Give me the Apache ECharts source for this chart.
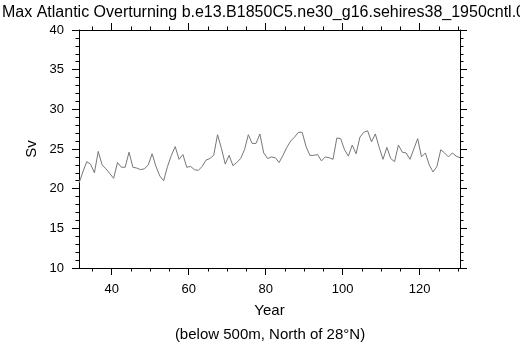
<!DOCTYPE html>
<html><head><meta charset="utf-8">
<script src="https://cdn.jsdelivr.net/npm/echarts@6/dist/echarts.min.js"></script>
<style>html,body{margin:0;padding:0;background:#fff}#c{width:520px;height:347px}</style>
</head><body><div id="c"></div>
<script>
// Data (year mid-points, Sv)
const years = [31.5,32.5,33.5,34.5,35.5,36.5,37.5,38.5,39.5,40.5,
  41.5,42.5,43.5,44.5,45.5,46.5,47.5,48.5,49.5,50.5,
  51.5,52.5,53.5,54.5,55.5,56.5,57.5,58.5,59.5,60.5,
  61.5,62.5,63.5,64.5,65.5,66.5,67.5,68.5,69.5,70.5,
  71.5,72.5,73.5,74.5,75.5,76.5,77.5,78.5,79.5,80.5,
  81.5,82.5,83.5,84.5,85.5,86.5,87.5,88.5,89.5,90.5,
  91.5,92.5,93.5,94.5,95.5,96.5,97.5,98.5,99.5,100.5,
  101.5,102.5,103.5,104.5,105.5,106.5,107.5,108.5,109.5,110.5,
  111.5,112.5,113.5,114.5,115.5,116.5,117.5,118.5,119.5,120.5,
  121.5,122.5,123.5,124.5,125.5,126.5,127.5,128.5,129.5,130.5];
const sv = [20.7,22.1,23.4,23.1,22.0,24.7,23.0,22.5,21.9,21.3,
  23.3,22.7,22.7,24.6,22.7,22.6,22.4,22.5,23.0,24.4,
  22.8,21.6,21.0,22.8,24.2,25.3,23.7,24.3,22.7,22.8,
  22.4,22.3,22.8,23.6,23.8,24.2,26.8,25.1,23.1,24.2,
  22.9,23.3,23.8,24.9,26.8,25.7,25.7,26.9,24.5,23.8,
  24.0,23.9,23.3,24.2,25.2,26.0,26.5,27.1,27.1,25.3,
  24.2,24.2,24.3,23.5,24.0,23.9,23.7,26.4,26.3,24.9,
  24.1,25.5,24.4,26.5,27.1,27.3,25.9,26.9,25.2,23.7,
  25.2,23.8,23.4,25.5,24.6,24.5,23.7,25.0,26.3,24.0,
  24.5,23.0,22.1,22.8,24.9,24.5,24.0,24.5,24.1,23.9];
const xMajorTicks = [40,60,80,100,120];
const xMinorTicks = [35,40,45,50,55,60,65,70,75,80,85,90,95,100,105,110,115,120,125,130];
const titleText = 'Max Atlantic Overturning b.e13.B1850C5.ne30_g16.sehires38_1950cntl.001';
const xTitle = 'Year';
const yTitle = 'Sv';
const subTitle = '(below 500m, North of 28°N)';

const FONT = '"Liberation Sans", Arial, Helvetica, sans-serif';
const chart = echarts.init(document.getElementById('c'), null, {renderer:'canvas'});
const axisLine = {show:true, lineStyle:{color:'#000', width:1}};
function xAx(pos, ticks, len, labels, line){
  return {type:'value', position:pos, min:31.5, max:130.5, gridIndex:0,
    axisLine: line ? axisLine : {show:false},
    axisTick:{show:true, inside:false, length:len, customValues:ticks, lineStyle:{color:'#000', width:1}},
    axisLabel: labels ? {show:true, customValues:xMajorTicks, fontSize:13, color:'#000', margin:15, fontFamily:FONT} : {show:false},
    splitLine:{show:false}};
}
function yAx(pos, labels){
  return {type:'value', position:pos, min:10, max:40, interval:5,
    axisLine:axisLine,
    axisTick:{show:true, inside:false, length:7, lineStyle:{color:'#000', width:1}},
    minorTick:{show:true, splitNumber:5, length:3.5, lineStyle:{color:'#000', width:1}},
    axisLabel: labels ? {show:true, fontSize:13, color:'#000', margin:15, fontFamily:FONT} : {show:false},
    splitLine:{show:false}, minorSplitLine:{show:false}};
}
chart.setOption({
  animation:false,
  backgroundColor:'#fff',
  grid:{left:79, right:60, top:30, bottom:79, containLabel:false},
  xAxis:[xAx('bottom', xMajorTicks, 7, true, true), xAx('bottom', xMinorTicks, 3.5, false, false),
         xAx('top', xMajorTicks, 7, false, true), xAx('top', xMinorTicks, 3.5, false, false)],
  yAxis:[yAx('left', true), yAx('right', false)],
  series:[{type:'line', xAxisIndex:0, yAxisIndex:0, showSymbol:false, symbol:'none',
    data: years.map((y,i)=>[y, sv[i]]),
    lineStyle:{color:'#777', width:1}}],
  graphic:[
    {type:'text', style:{x:2, y:13, text:titleText, font:'16px '+FONT, fill:'#000', align:'left', verticalAlign:'middle'}},
    {type:'text', style:{x:269.5, y:311, text:xTitle, font:'15px '+FONT, fill:'#000', align:'center', verticalAlign:'middle'}},
    {type:'text', style:{x:270, y:335, text:subTitle, font:'15px '+FONT, fill:'#000', align:'center', verticalAlign:'middle'}},
    {type:'text', x:32, y:149, rotation:Math.PI/2, style:{x:0, y:0, text:yTitle, font:'15px '+FONT, fill:'#000', align:'center', verticalAlign:'middle'}}
  ]
});
</script></body></html>
